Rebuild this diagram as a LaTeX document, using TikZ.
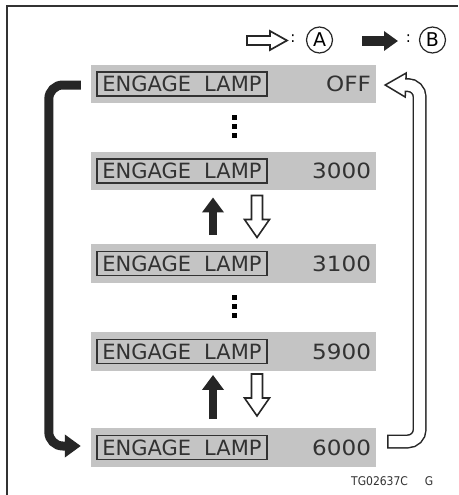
\documentclass[tikz,border=0pt]{standalone}
\usepackage{fontspec}
\setmainfont{DejaVu Sans}
\newfontfamily\condfont{DejaVu Sans Condensed}
\usetikzlibrary{arrows.meta}
\definecolor{bargray}{RGB}{196,196,196}
\definecolor{ink}{RGB}{50,50,50}
\tikzset{
  bar/.style={fill=bargray, minimum width=285pt, minimum height=38.5pt, inner sep=0pt},
  lampbox/.style={draw=ink, line width=1.1pt, inner xsep=2pt, inner ysep=0pt, minimum height=24pt, minimum width=170pt, text=ink, font=\fontsize{21}{21}\selectfont},
  val/.style={anchor=east, inner sep=0pt, text=ink, xscale=1.1, font=\fontsize{21}{21}\selectfont},
  dotsq/.style={fill=black, minimum size=5.5pt, inner sep=0pt},
  upblack/.style={line width=8pt, draw=black!85, -{Triangle[length=15pt,width=21pt]}},
  hdown/.pic={\draw[fill=white, draw=black!85, line width=1.6pt] (-5.5,0) -- (5.5,0) -- (5.5,24) -- (12.5,24) -- (0,42) -- (-12.5,24) -- (-5.5,24) -- cycle;},
  circled/.style={circle, draw=black!85, line width=1.2pt, minimum size=26pt, inner sep=0pt, font=\fontsize{19}{19}\selectfont},
}
\begin{document}
\begin{tikzpicture}[x=1pt,y=-1pt]
\useasboundingbox (0,0) rectangle (458,495);
\fill[white] (0,0) rectangle (458,495);
\draw[line width=2pt, ink] (7,495) -- (7,6) -- (458,6);

% legend
\draw[fill=white, draw=black!85, line width=1.7pt] (247,36) -- (270,36) -- (270,31) -- (287,40.5) -- (270,50) -- (270,45) -- (247,45) -- cycle;
\node[font=\fontsize{15}{15}\selectfont] (c1) at (293,39) {:};
\node[circled] (cA) at (319.5,40) {A};
\draw[line width=10pt, draw=black!85, -{Triangle[length=14pt,width=19pt]}] (362,41) -- (398,41);
\node[font=\fontsize{15}{15}\selectfont] (c2) at (408.5,39) {:};
\node[circled] (cB) at (432.5,40) {B};

% bars
\node[bar] (b1) at (233.5,84) {};
\node[bar] (b2) at (233.5,171) {};
\node[bar] (b3) at (233.5,263.5) {};
\node[bar] (b4) at (233.5,351.5) {};
\node[bar] (b5) at (233.5,447.5) {};
\foreach \i/\v in {1/OFF,2/3000,3/3100,4/5900,5/6000}{
  \node[lampbox] (l\i) at ([xshift=-51.5pt]b\i.center) {ENGAGE\hspace{13pt}LAMP};
  \node[val] (v\i) at ([xshift=-5pt]b\i.east) {\v};
}

% dots
\foreach \y in {117.5,126.5,135.5}{ \node[dotsq] at (234.5,\y) {}; }
\foreach \y in {297.5,306.5,315.5}{ \node[dotsq] at (234.5,\y) {}; }

% up / down arrows
\draw[upblack] ([xshift=-20.5pt,yshift=9pt]b3.north) -- ([xshift=-20.5pt,yshift=-7pt]b2.south);
\pic at ([xshift=23.5pt,yshift=-5pt]b2.south) {hdown};
\draw[upblack] ([xshift=-20.5pt,yshift=9pt]b5.north) -- ([xshift=-20.5pt,yshift=-4pt]b4.south);
\pic at ([xshift=23.5pt,yshift=-3pt]b4.south) {hdown};

% left black loop
\draw[line width=9pt, draw=black!85, rounded corners=14pt, -{Triangle[length=16pt,width=22pt]}]
  ([xshift=-10pt,yshift=-1pt]b1.west) -- ++(-32,0) |- ([xshift=-10pt,yshift=1.5pt]b5.west);

% right hollow loop
\coordinate (rs) at ([xshift=11pt,yshift=6pt]b5.east);
\coordinate (rt) at ([xshift=9pt,yshift=-1pt]b1.east);
\draw[line width=14pt, draw=black!85, rounded corners=12pt] (rs) -- ++(32.5,0) |- ([xshift=19pt]rt);
\draw[fill=white, draw=black!85, line width=1.5pt] (rt) -- ++(21,-12) -- ++(-1,24) -- cycle;
\draw[line width=11pt, white, rounded corners=12pt] ([xshift=1.5pt]rs) -- ++(31,0) |- ([xshift=13pt]rt);

% code
\node[font=\condfont\fontsize{12}{12}\selectfont, anchor=west, inner sep=0pt, text=ink] (code) at (351,481) {TG02637C};
\node[font=\condfont\fontsize{12}{12}\selectfont, inner sep=0pt, text=ink] (gg) at (429,481) {G};
\end{tikzpicture}
\end{document}
